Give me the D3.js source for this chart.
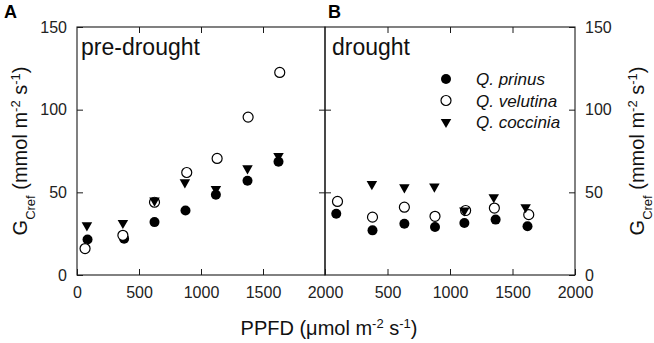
<!DOCTYPE html>
<html><head><meta charset="utf-8">
<script src="https://cdn.jsdelivr.net/npm/d3@7"></script>
<style>body{margin:0;background:#fff}svg{display:block;font-family:"Liberation Sans",Arial,sans-serif}</style>
</head><body><svg id="c" width="654" height="343"></svg>
<script>
const xTicksLeft = [0, 500, 1000, 1500, 2000];
const xTicksRight = [500, 1000, 1500, 2000];
const yTicks = [0, 50, 100, 150];
const seriesNames = ["Q. prinus", "Q. velutina", "Q. coccinia"];

// Panel A: pre-drought
const preX_prinus = [85, 380, 625, 875, 1120, 1375, 1625];
const preY_prinus = [21.5, 22, 32, 39, 48.5, 57, 68.5];
const preX_velutina = [65, 370, 625, 885, 1130, 1380, 1635];
const preY_velutina = [16, 24, 44, 62, 70.5, 95.5, 122.5];
const preX_coccinia = [80, 370, 625, 870, 1120, 1375, 1625];
const preY_coccinia = [30, 31.5, 45, 56, 52, 64.5, 72];

// Panel B: drought
const drX_prinus = [90, 380, 635, 880, 1115, 1365, 1620];
const drY_prinus = [37, 27, 31, 29, 31.5, 33.5, 29.5];
const drX_velutina = [100, 380, 635, 880, 1125, 1355, 1630];
const drY_velutina = [44.5, 35, 41, 35.5, 39, 40.5, 36.5];
const drX_coccinia = [375, 635, 875, 1115, 1350, 1605];
const drY_coccinia = [55, 53, 53.5, 39, 47, 41];

const svg = d3.select("#c");
const L = 77, M = 325, R = 575, T = 27, B = 275;
const xA = d3.scaleLinear().domain([0, 2000]).range([L, M]);
const xB = d3.scaleLinear().domain([0, 2000]).range([M, R]);
const y = d3.scaleLinear().domain([0, 150]).range([B, T]);
const ink = "#1a1a1a";

function styleAxis(g, fs) {
  g.select(".domain").remove();
  g.selectAll(".tick line").attr("stroke", ink).attr("stroke-width", 1);
  g.selectAll(".tick text").attr("fill", "#222").style("font-size", fs + "px").style("font-family", '"Liberation Sans",Arial,sans-serif');
}
// frames
[[L, M], [M, R]].forEach(([a, b]) => {
  svg.append("rect").attr("x", a).attr("y", T).attr("width", b - a).attr("height", B - T)
    .attr("fill", "none").attr("stroke", ink).attr("stroke-width", 1.1);
});
// bottom axes
svg.append("g").attr("transform", `translate(0,${B})`)
  .call(d3.axisBottom(xA).tickValues(xTicksLeft).tickSizeInner(-6).tickSizeOuter(0).tickPadding(12).tickFormat(d3.format("d")))
  .call(g => styleAxis(g, 16));
svg.append("g").attr("transform", `translate(0,${B})`)
  .call(d3.axisBottom(xB).tickValues(xTicksRight).tickSizeInner(-6).tickSizeOuter(0).tickPadding(12).tickFormat(d3.format("d")))
  .call(g => styleAxis(g, 16));
// top axes (ticks only)
[xA, xB].forEach(sc => {
  svg.append("g").attr("transform", `translate(0,${T})`)
    .call(d3.axisTop(sc).tickValues([500, 1000, 1500]).tickSizeInner(-6).tickSizeOuter(0).tickFormat(""))
    .call(g => styleAxis(g, 16));
});
// left y axis
svg.append("g").attr("transform", `translate(${L},0)`)
  .call(d3.axisLeft(y).tickValues(yTicks).tickSizeInner(-6).tickSizeOuter(0).tickPadding(10))
  .call(g => styleAxis(g, 16));
// right y axis
svg.append("g").attr("transform", `translate(${R},0)`)
  .call(d3.axisRight(y).tickValues(yTicks).tickSizeInner(-6).tickSizeOuter(0).tickPadding(10))
  .call(g => styleAxis(g, 16));
// divider ticks both sides
svg.append("g").attr("transform", `translate(${M},0)`)
  .call(d3.axisRight(y).tickValues([50, 100]).tickSizeInner(-6).tickSizeOuter(0).tickFormat(""))
  .call(g => styleAxis(g, 16));
svg.append("g").attr("transform", `translate(${M},0)`)
  .call(d3.axisLeft(y).tickValues([50, 100]).tickSizeInner(-6).tickSizeOuter(0).tickFormat(""))
  .call(g => styleAxis(g, 16));

const tri = d3.symbol().type(d3.symbolTriangle).size(48);
function drawPanel(xs, xP, yP, xV, yV, xC, yC) {
  const g = svg.append("g");
  g.selectAll(".p").data(d3.zip(xP, yP)).join("circle")
    .attr("cx", d => xs(d[0])).attr("cy", d => y(d[1])).attr("r", 5).attr("fill", "#000");
  g.selectAll(".v").data(d3.zip(xV, yV)).join("circle")
    .attr("cx", d => xs(d[0])).attr("cy", d => y(d[1])).attr("r", 5).attr("fill", "#fff").attr("stroke", "#000").attr("stroke-width", 1.2);
  g.selectAll(".c").data(d3.zip(xC, yC)).join("path")
    .attr("d", tri).attr("transform", d => `translate(${xs(d[0])},${y(d[1])}) rotate(180)`).attr("fill", "#000");
}
drawPanel(xA, preX_prinus, preY_prinus, preX_velutina, preY_velutina, preX_coccinia, preY_coccinia);
drawPanel(xB, drX_prinus, drY_prinus, drX_velutina, drY_velutina, drX_coccinia, drY_coccinia);

// panel text
svg.append("text").attr("x", 81).attr("y", 55).attr("fill", "#111").style("font-size", "23px").text("pre-drought");
svg.append("text").attr("x", 332).attr("y", 55).attr("fill", "#111").style("font-size", "23px").text("drought");
svg.append("text").attr("x", 4).attr("y", 18).style("font-size", "18px").style("font-weight", "bold").text("A");
svg.append("text").attr("x", 328).attr("y", 18).style("font-size", "18px").style("font-weight", "bold").text("B");

// legend
const legY = [79, 100.5, 122];
const lg = svg.append("g");
lg.append("circle").attr("cx", 446).attr("cy", legY[0]).attr("r", 5).attr("fill", "#000");
lg.append("circle").attr("cx", 446).attr("cy", legY[1]).attr("r", 5).attr("fill", "#fff").attr("stroke", "#000").attr("stroke-width", 1.2);
lg.append("path").attr("d", tri).attr("transform", `translate(446,${legY[2]}) rotate(180)`).attr("fill", "#000");
seriesNames.forEach((n, i) => {
  lg.append("text").attr("x", 476).attr("y", legY[i] + 6).style("font-size", "17px").style("font-style", "italic").attr("fill", "#111").text(n);
});

// axis titles
function yTitle(sel) {
  sel.append("tspan").text("G");
  sel.append("tspan").attr("baseline-shift", "sub").style("font-size", "13px").text("Cref");
  sel.append("tspan").text(" (mmol m");
  sel.append("tspan").attr("baseline-shift", "super").style("font-size", "13px").text("-2");
  sel.append("tspan").text(" s");
  sel.append("tspan").attr("baseline-shift", "super").style("font-size", "13px").text("-1");
  sel.append("tspan").text(")");
}
svg.append("text").attr("transform", "translate(27,151) rotate(-90)").attr("text-anchor", "middle")
  .style("font-size", "20px").attr("fill", "#111").call(yTitle);
svg.append("text").attr("transform", "translate(644,151) rotate(-90)").attr("text-anchor", "middle")
  .style("font-size", "20px").attr("fill", "#111").call(yTitle);
const xt = svg.append("text").attr("x", 329).attr("y", 335).attr("text-anchor", "middle").style("font-size", "20px").attr("fill", "#111");
xt.append("tspan").text("PPFD (\u03bcmol m");
xt.append("tspan").attr("baseline-shift", "super").style("font-size", "13px").text("-2");
xt.append("tspan").text(" s");
xt.append("tspan").attr("baseline-shift", "super").style("font-size", "13px").text("-1");
xt.append("tspan").text(")");
</script></body></html>
